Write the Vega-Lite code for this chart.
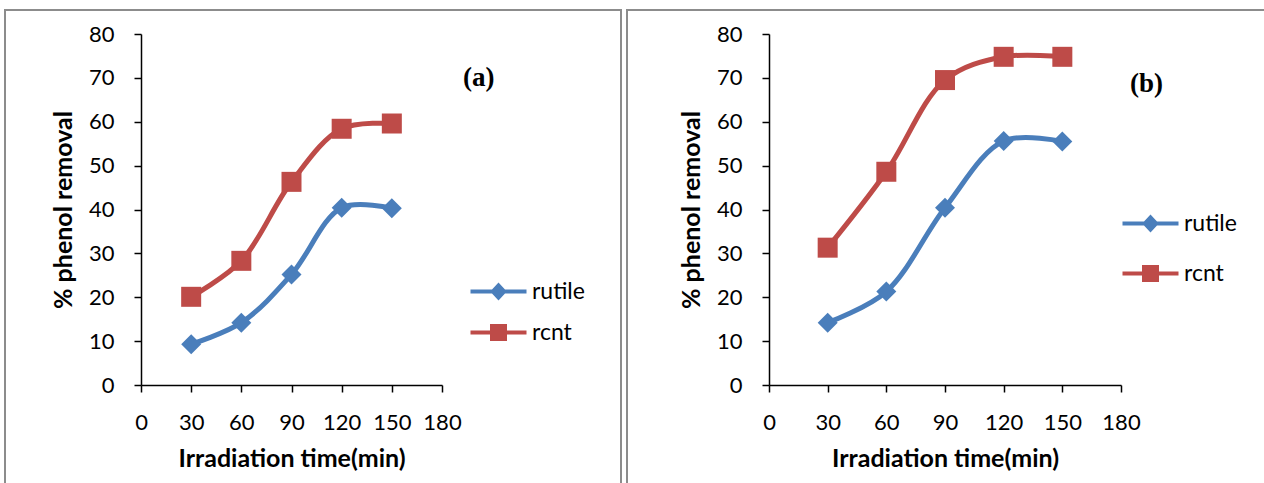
{
  "$schema": "https://vega.github.io/schema/vega-lite/v6.json",
  "padding": {"left": 4, "top": 9, "right": 0, "bottom": 0},
  "background": "white",
  "datasets": {
    "a": [
      {"time": 30, "removal": 9.3, "series": "rutile"},
      {"time": 60, "removal": 14.2, "series": "rutile"},
      {"time": 90, "removal": 25.2, "series": "rutile"},
      {"time": 120, "removal": 40.4, "series": "rutile"},
      {"time": 150, "removal": 40.3, "series": "rutile"},
      {"time": 30, "removal": 20.1, "series": "rcnt"},
      {"time": 60, "removal": 28.3, "series": "rcnt"},
      {"time": 90, "removal": 46.3, "series": "rcnt"},
      {"time": 120, "removal": 58.4, "series": "rcnt"},
      {"time": 150, "removal": 59.6, "series": "rcnt"}
    ],
    "b": [
      {"time": 30, "removal": 14.2, "series": "rutile"},
      {"time": 60, "removal": 21.3, "series": "rutile"},
      {"time": 90, "removal": 40.4, "series": "rutile"},
      {"time": 120, "removal": 55.6, "series": "rutile"},
      {"time": 150, "removal": 55.5, "series": "rutile"},
      {"time": 30, "removal": 31.3, "series": "rcnt"},
      {"time": 60, "removal": 48.6, "series": "rcnt"},
      {"time": 90, "removal": 69.5, "series": "rcnt"},
      {"time": 120, "removal": 74.8, "series": "rcnt"},
      {"time": 150, "removal": 74.8, "series": "rcnt"}
    ],
    "labA": [{"time": 202, "removal": 70.0, "label": "(a)"}],
    "labB": [{"time": 193, "removal": 68.6, "label": "(b)"}]
  },
  "spacing": 4,
  "hconcat": [
    {
      "width": 616,
      "height": 480,
      "layer": [
        {
          "data": {"name": "a"},
          "mark": {"type": "line", "interpolate": "catmull-rom", "strokeWidth": 5},
          "encoding": {
            "x": {"field": "time", "type": "quantitative", "scale": {"domain": [0, 180], "range": [136, 437], "nice": false, "zero": false},
              "axis": {"title": "Irradiation time(min)", "values": [0, 30, 60, 90, 120, 150, 180], "offset": -105}},
            "y": {"field": "removal", "type": "quantitative", "scale": {"domain": [0, 80], "range": [375, 24], "nice": false},
              "axis": {"title": "% phenol removal", "values": [0, 10, 20, 30, 40, 50, 60, 70, 80], "offset": -136}},
            "color": {"field": "series", "type": "nominal", "scale": {"domain": ["rutile", "rcnt"], "range": ["#4A7EBB", "#BE4B48"]},
              "legend": {"orient": "none", "legendX": 482, "legendY": 270, "rowPadding": 17,
                "encode": {"symbols": {"update": {
                  "shape": {"signal": "datum.value == 'rutile' ? 'M-2.8,-0.2H-0.65L0,-0.9L0.65,-0.2H2.8V0.2H0.65L0,0.9L-0.65,0.2H-2.8Z' : 'M-2.8,-0.2H-0.85V-0.85H0.85V-0.2H2.8V0.2H0.85V0.85H-0.85V0.2H-2.8Z'"},
                  "fill": {"signal": "datum.value == 'rutile' ? '#4A7EBB' : '#BE4B48'"},
                  "stroke": {"value": "transparent"},
                  "opacity": {"value": 1}
                }}}}}
          }
        },
        {
          "data": {"name": "a"},
          "mark": {"type": "point", "filled": true, "size": 400, "opacity": 1},
          "encoding": {
            "x": {"field": "time", "type": "quantitative"},
            "y": {"field": "removal", "type": "quantitative"},
            "color": {"field": "series", "type": "nominal"},
            "shape": {"condition": {"test": "datum.series == 'rutile'", "value": "diamond"}, "value": "square"}
          }
        },
        {
          "data": {"name": "labA"},
          "mark": {"type": "text", "font": "Liberation Serif", "fontWeight": "bold", "fontSize": 27, "align": "center", "baseline": "middle", "color": "black"},
          "encoding": {
            "x": {"field": "time", "type": "quantitative"},
            "y": {"field": "removal", "type": "quantitative"},
            "text": {"field": "label"}
          }
        }
      ]
    },
    {
      "width": 645,
      "height": 480,
      "layer": [
        {
          "data": {"name": "b"},
          "mark": {"type": "line", "interpolate": "catmull-rom", "strokeWidth": 5},
          "encoding": {
            "x": {"field": "time", "type": "quantitative", "scale": {"domain": [0, 180], "range": [142, 494], "nice": false, "zero": false},
              "axis": {"title": "Irradiation time(min)", "values": [0, 30, 60, 90, 120, 150, 180], "offset": -105}},
            "y": {"field": "removal", "type": "quantitative", "scale": {"domain": [0, 80], "range": [375, 24], "nice": false},
              "axis": {"title": "% phenol removal", "values": [0, 10, 20, 30, 40, 50, 60, 70, 80], "offset": -142}},
            "color": {"field": "series", "type": "nominal", "scale": {"domain": ["rutile", "rcnt"], "range": ["#4A7EBB", "#BE4B48"]},
              "legend": {"orient": "none", "legendX": 512, "legendY": 202, "rowPadding": 26,
                "encode": {"symbols": {"update": {
                  "shape": {"signal": "datum.value == 'rutile' ? 'M-2.8,-0.2H-0.65L0,-0.9L0.65,-0.2H2.8V0.2H0.65L0,0.9L-0.65,0.2H-2.8Z' : 'M-2.8,-0.2H-0.85V-0.85H0.85V-0.2H2.8V0.2H0.85V0.85H-0.85V0.2H-2.8Z'"},
                  "fill": {"signal": "datum.value == 'rutile' ? '#4A7EBB' : '#BE4B48'"},
                  "stroke": {"value": "transparent"},
                  "opacity": {"value": 1}
                }}}}}
          }
        },
        {
          "data": {"name": "b"},
          "mark": {"type": "point", "filled": true, "size": 400, "opacity": 1},
          "encoding": {
            "x": {"field": "time", "type": "quantitative"},
            "y": {"field": "removal", "type": "quantitative"},
            "color": {"field": "series", "type": "nominal"},
            "shape": {"condition": {"test": "datum.series == 'rutile'", "value": "diamond"}, "value": "square"}
          }
        },
        {
          "data": {"name": "labB"},
          "mark": {"type": "text", "font": "Liberation Serif", "fontWeight": "bold", "fontSize": 27, "align": "center", "baseline": "middle", "color": "black"},
          "encoding": {
            "x": {"field": "time", "type": "quantitative"},
            "y": {"field": "removal", "type": "quantitative"},
            "text": {"field": "label"}
          }
        }
      ]
    }
  ],
  "resolve": {
    "scale": {"x": "independent", "y": "independent", "color": "independent"},
    "legend": {"color": "independent"}
  },
  "config": {
    "view": {"stroke": "#8c8c8c", "strokeWidth": 2},
    "axis": {
      "grid": false,
      "domainColor": "black",
      "domainWidth": 1.5,
      "tickColor": "black",
      "tickWidth": 1.5,
      "tickSize": 7,
      "labelFont": "Lato",
      "labelFontSize": 22,
      "labelColor": "black",
      "labelPadding": 20,
      "labelFlush": false,
      "labelOverlap": false,
      "titleFont": "Lato",
      "titleFontSize": 25,
      "titleFontWeight": "bold",
      "titleColor": "black"
    },
    "axisX": {"titlePadding": 13},
    "axisY": {"titlePadding": 12},
    "legend": {
      "padding": 0,
      "symbolSize": 400,
      "symbolStrokeWidth": 0,
      "labelFont": "Lato",
      "labelFontSize": 23,
      "labelColor": "black",
      "labelOffset": 22,
      "title": null
    }
  }
}
